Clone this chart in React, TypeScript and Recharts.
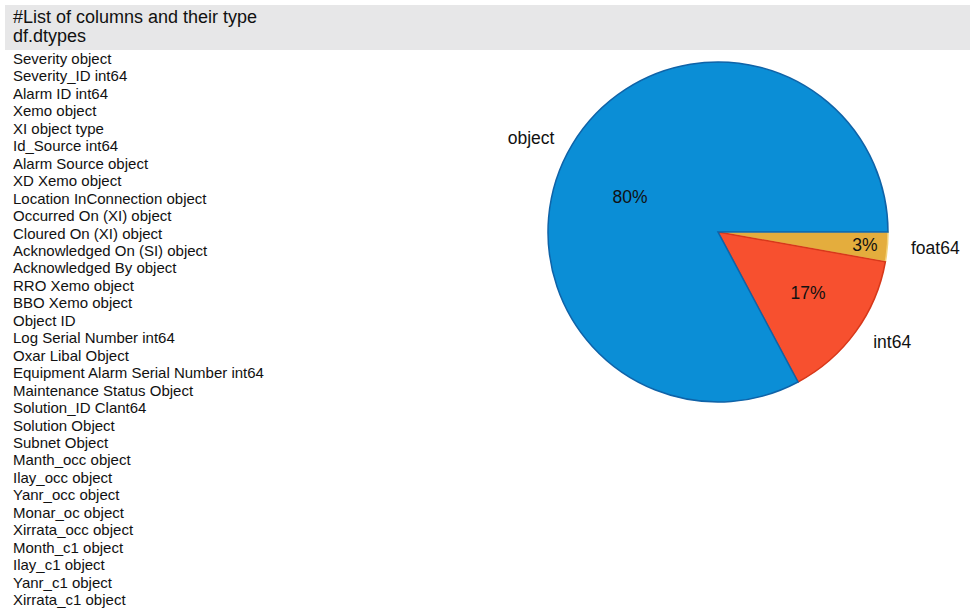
import React from "react";
import { PieChart, Pie, Cell } from "recharts";

const headerLines = ["#List of columns and their type", "df.dtypes"];

const columnLines = [
  "Severity object",
  "Severity_ID int64",
  "Alarm ID int64",
  "Xemo object",
  "XI object type",
  "Id_Source int64",
  "Alarm Source object",
  "XD Xemo object",
  "Location InConnection object",
  "Occurred On (XI) object",
  "Cloured On (XI) object",
  "Acknowledged On (SI) object",
  "Acknowledged By object",
  "RRO Xemo object",
  "BBO Xemo object",
  "Object ID",
  "Log Serial Number int64",
  "Oxar Libal Object",
  "Equipment Alarm Serial Number int64",
  "Maintenance Status Object",
  "Solution_ID Clant64",
  "Solution Object",
  "Subnet Object",
  "Manth_occ object",
  "Ilay_occ object",
  "Yanr_occ object",
  "Monar_oc object",
  "Xirrata_occ object",
  "Month_c1 object",
  "Ilay_c1 object",
  "Yanr_c1 object",
  "Xirrata_c1 object",
];

// drawn clockwise from 3 o'clock
const typeNames = ["foat64", "int64", "object"];
const typeShares = [2.8, 14.4, 82.8];
const pctLabels = ["3%", "17%", "80%"];

const fills = ["#e4ad3d", "#f7502f", "#0b8ed6"];
const strokes = ["#f3d27a", "#d7381a", "#0f63a8"];

// label layout: [angle offset (deg), radius factor]
const pctLayout: [number, number][] = [
  [0, 0.868],
  [1.9, 0.64],
  [9.3, 0.557],
];
const nameLayout: [number, number][] = [
  [0.8, 1.282],
  [3.7, 1.212],
  [4.3, 1.23],
];

const pieData = typeNames.map((name, i) => ({
  name,
  value: typeShares[i],
  pct: pctLabels[i],
}));

const RAD = Math.PI / 180;

const renderLabel = (props: any) => {
  const { cx, cy, midAngle, outerRadius, index } = props;
  const [pa, pr] = pctLayout[index];
  const [na, nr] = nameLayout[index];
  const pAng = (midAngle + pa) * RAD;
  const nAng = (midAngle + na) * RAD;
  const px = cx + outerRadius * pr * Math.cos(-pAng);
  const py = cy + outerRadius * pr * Math.sin(-pAng);
  const nx = cx + outerRadius * nr * Math.cos(-nAng);
  const ny = cy + outerRadius * nr * Math.sin(-nAng);
  return (
    <g>
      <text
        x={px}
        y={py}
        textAnchor="middle"
        dominantBaseline="central"
        fontSize={17.5}
        fill="#111"
        fontFamily="'Liberation Sans', Arial, sans-serif"
      >
        {pieData[index].pct}
      </text>
      <text
        x={nx}
        y={ny}
        textAnchor="middle"
        dominantBaseline="central"
        fontSize={17.5}
        fill="#111"
        fontFamily="'Liberation Sans', Arial, sans-serif"
      >
        {pieData[index].name}
      </text>
    </g>
  );
};

export default function App() {
  return (
    <div
      style={{
        position: "absolute",
        left: 0,
        top: 0,
        width: 970,
        height: 609,
        overflow: "hidden",
        background: "#ffffff",
        fontFamily: "'Liberation Sans', Arial, sans-serif",
        color: "#111",
      }}
    >
      <div
        style={{
          position: "absolute",
          left: 5,
          top: 5,
          width: 965,
          height: 45,
          background: "#e7e7e8",
        }}
      />
      <div
        style={{
          position: "absolute",
          left: 13,
          top: 8,
          fontSize: 18,
          lineHeight: "19px",
          whiteSpace: "nowrap",
        }}
      >
        {headerLines.map((t) => (
          <div key={t}>{t}</div>
        ))}
      </div>
      <div
        style={{
          position: "absolute",
          left: 13,
          top: 50,
          fontSize: 15,
          lineHeight: "17.46px",
          whiteSpace: "nowrap",
        }}
      >
        {columnLines.map((t, i) => (
          <div key={i}>{t}</div>
        ))}
      </div>
      <div style={{ position: "absolute", left: 0, top: 0 }}>
        <PieChart width={970} height={609} margin={{ top: 0, right: 0, bottom: 0, left: 0 }}>
          <Pie
            data={pieData}
            dataKey="value"
            nameKey="name"
            cx={718}
            cy={232}
            outerRadius={170}
            startAngle={0}
            endAngle={-360}
            isAnimationActive={false}
            label={renderLabel}
            labelLine={false}
          >
            {pieData.map((d, i) => (
              <Cell key={d.name} fill={fills[i]} stroke={strokes[i]} strokeWidth={1.5} />
            ))}
          </Pie>
        </PieChart>
      </div>
    </div>
  );
}
